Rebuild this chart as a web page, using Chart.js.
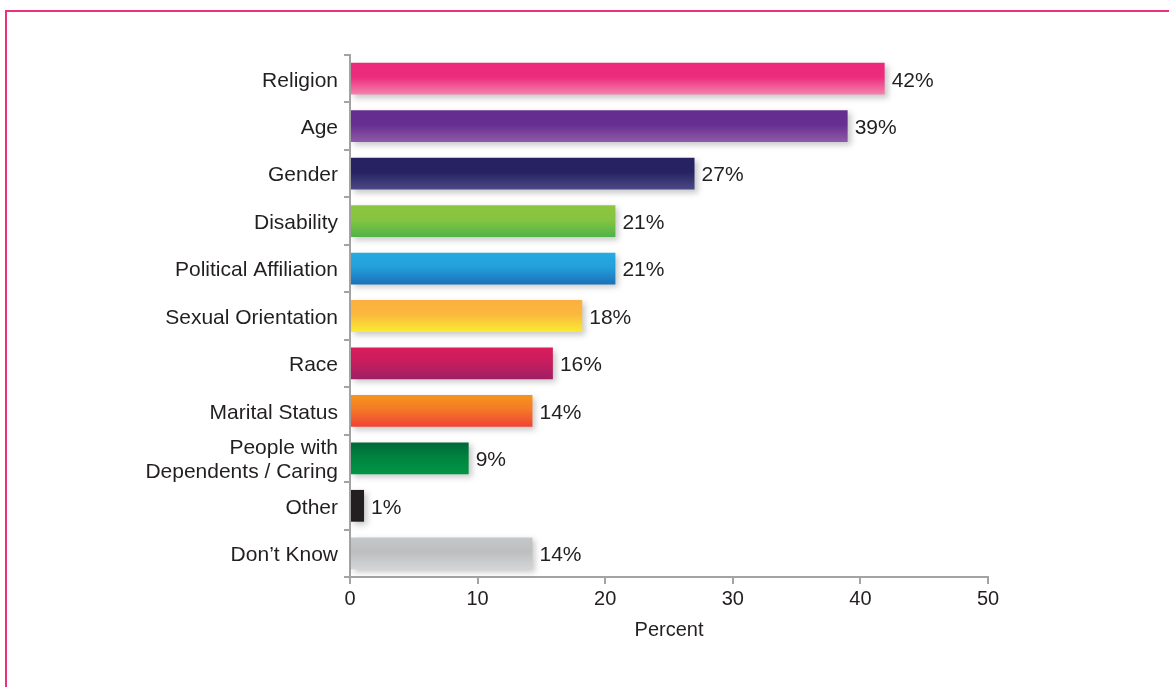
<!DOCTYPE html>
<html>
<head>
<meta charset="utf-8">
<script src="https://cdn.jsdelivr.net/npm/chart.js@4"></script>
<style>
    html, body { margin: 0; padding: 0; background: #fff; overflow: hidden; }
    #wrap { position: relative; width: 1169px; height: 687px; }
    #frame { position: absolute; left: 5px; top: 10px; width: 1300px; height: 900px; border: 2px solid #ee2e7f; box-sizing: border-box; }
    #chart { position: absolute; left: 0; top: 0; }
</style>
</head>
<body>
<div id="wrap">
    <div id="frame"></div>
    <canvas id="chart" width="1169" height="687"></canvas>
</div>
<script>
const categories = [
    'Religion', 'Age', 'Gender', 'Disability', 'Political Affiliation',
    'Sexual Orientation', 'Race', 'Marital Status',
    ['People with', 'Dependents / Caring'], 'Other', 'Don\u2019t Know'
];
const percents = [41.9, 39.0, 27.0, 20.8, 20.8, 18.2, 15.9, 14.3, 9.3, 1.1, 14.3];
const xTicks = [0, 10, 20, 30, 40, 50];

// gradient colours per bar: top, mid stop, bottom
const GRAD = [
    ['#ec287a', '#ed2b7c', '#f384ad'],
    ['#652d90', '#662e91', '#8f5aa7'],
    ['#262262', '#272363', '#4c4985'],
    ['#8dc63f', '#86c440', '#4fb348'],
    ['#27aae1', '#23a0db', '#1b70b8'],
    ['#fbb040', '#fbb83d', '#f9ec32'],
    ['#da1c5c', '#c71d5e', '#9e1f63'],
    ['#f7941d', '#f47a26', '#ef4136'],
    ['#006838', '#00833f', '#009646'],
    ['#231f20', '#231f20', '#231f20'],
    ['#c6c7c9', '#bdbec0', '#d4d5d7'],
];
const BAR_PCT = 0.67;
const FONT = "'Liberation Sans', Arial, sans-serif";
const AXIS = '#a3a3a3';

function barFill(ctx) {
    const chart = ctx.chart;
    const g = GRAD[ctx.dataIndex];
    const yScale = chart.scales.y;
    if (!chart.chartArea || !yScale) return g[1];
    const c = yScale.getPixelForValue(ctx.dataIndex);
    const half = yScale.height / categories.length * BAR_PCT / 2;
    const grad = chart.ctx.createLinearGradient(0, c - half, 0, c + half);
    grad.addColorStop(0, g[0]);
    grad.addColorStop(0.45, g[1]);
    grad.addColorStop(1, g[2]);
    return grad;
}

const barShadow = {
    id: 'barShadow',
    beforeDatasetsDraw(chart) {
        const c = chart.ctx;
        c.save();
        c.shadowColor = 'rgba(0,0,0,0.22)';
        c.shadowBlur = 6;
        c.shadowOffsetX = 3;
        c.shadowOffsetY = 3;
    },
    afterDatasetsDraw(chart) {
        chart.ctx.restore();
    }
};

const valueLabels = {
    id: 'valueLabels',
    afterDatasetsDraw(chart) {
        const c = chart.ctx;
        const meta = chart.getDatasetMeta(0);
        c.save();
        c.font = '21px ' + FONT;
        c.fillStyle = '#231f20';
        c.textAlign = 'left';
        c.textBaseline = 'middle';
        meta.data.forEach((bar, i) => {
            c.fillText(Math.round(percents[i]) + '%', bar.x + 7, bar.y + 2);
        });
        c.restore();
    }
};

new Chart(document.getElementById('chart'), {
    type: 'bar',
    data: {
        labels: categories,
        datasets: [{
            data: percents,
            backgroundColor: barFill,
            borderWidth: 0,
            categoryPercentage: 1,
            barPercentage: BAR_PCT,
        }]
    },
    options: {
        indexAxis: 'y',
        responsive: false,
        animation: false,
        events: [],
        layout: { padding: { top: 55, right: 181, bottom: 40, left: 0 } },
        plugins: {
            legend: { display: false },
            tooltip: { enabled: false },
        },
        scales: {
            x: {
                min: 0,
                max: 50,
                afterBuildTicks: scale => { scale.ticks = xTicks.map(v => ({ value: v })); },
                afterFit: scale => { scale.height = 70; },
                border: { color: AXIS, width: 2 },
                grid: { drawOnChartArea: false, color: AXIS, lineWidth: 2, tickLength: 7 },
                ticks: { color: '#231f20', padding: 3, font: { size: 20, family: FONT } },
                title: {
                    display: true,
                    text: 'Percent',
                    color: '#231f20',
                    font: { size: 20, family: FONT },
                    padding: { top: 0, bottom: 5 },
                },
            },
            y: {
                afterFit: scale => { scale.width = 350; },
                border: { color: AXIS, width: 2 },
                grid: { drawOnChartArea: false, color: AXIS, lineWidth: 2, tickLength: 6 },
                ticks: {
                    autoSkip: false,
                    color: '#231f20',
                    padding: 6,
                    labelOffset: 2,
                    font: { size: 21, family: FONT, lineHeight: 1.15 },
                },
            },
        },
    },
    plugins: [barShadow, valueLabels],
});
</script>
</body>
</html>
